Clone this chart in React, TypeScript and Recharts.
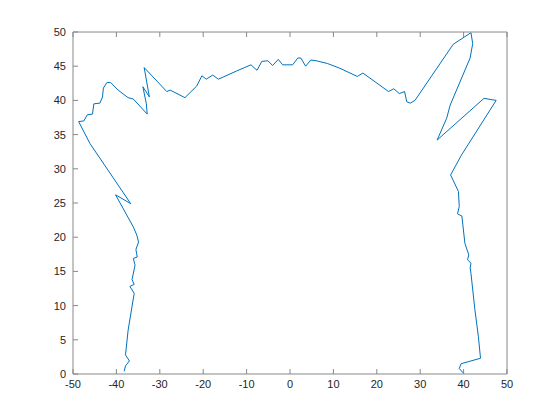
import React from "react";
import { LineChart, Line, XAxis, YAxis } from "recharts";

// contour traced from bottom-left, over the top, down to bottom-right
const leftX = [-38.2, -37.9, -37.0, -37.9, -37.3, -35.9, -36.9, -35.9, -36.4, -35.7, -36.1, -35.2, -35.5, -34.9, -35.3, -36.1, -40.2, -36.7, -46.1, -48.7];
const leftY = [0.4, 1.2, 1.9, 2.8, 6.4, 11.8, 12.8, 13.1, 13.8, 15.9, 16.9, 17.1, 18.2, 19.3, 20.3, 21.5, 26.2, 24.9, 33.7, 36.9];

const topX = [-47.5, -46.7, -45.5, -45.2, -43.8, -43.2, -43.0, -42.2, -41.3, -39.6, -37.3, -36.1, -32.9, -33.1, -33.9, -32.4, -33.6, -28.4, -27.6, -24.2, -21.5, -20.3, -19.3, -17.8, -16.5, -12.3, -9.0, -7.6, -6.5, -5.1, -4.0, -2.7, -1.7, 0.6, 1.8, 2.5, 3.6, 4.8, 6.0, 8.6, 11.5, 15.5, 16.8, 22.7, 23.9, 25.2, 26.4, 26.9, 27.7, 28.8];
const topY = [37.0, 37.9, 38.0, 39.5, 39.6, 40.5, 41.8, 42.6, 42.6, 41.5, 40.4, 40.2, 38.0, 39.5, 42.0, 40.5, 44.8, 41.3, 41.5, 40.4, 42.1, 43.6, 43.1, 43.7, 43.1, 44.3, 45.2, 44.4, 45.7, 45.8, 45.1, 46.0, 45.2, 45.2, 46.2, 46.2, 45.0, 45.9, 45.8, 45.4, 44.7, 43.5, 44.0, 41.3, 41.7, 41.0, 41.3, 39.8, 39.6, 40.0];

const rightX = [37.6, 41.7, 42.1, 41.5, 36.9, 36.1, 33.9, 44.7, 47.5, 39.5, 37.0, 38.8, 39.0, 38.6, 39.6, 40.3, 41.2, 40.9, 41.7, 41.5, 41.7, 42.6, 43.4, 43.9, 39.4, 39.0, 40.0];
const rightY = [48.2, 49.9, 48.3, 46.2, 39.3, 37.4, 34.2, 40.3, 40.0, 32.0, 29.1, 26.7, 24.5, 23.4, 23.1, 19.1, 17.4, 16.7, 16.2, 15.5, 14.7, 9.4, 5.5, 2.3, 1.5, 0.8, 0.1];

const xTicks = [-50, -40, -30, -20, -10, 0, 10, 20, 30, 40, 50];
const yTicks = [0, 5, 10, 15, 20, 25, 30, 35, 40, 45, 50];

const data = [
  ...leftX.map((x, i) => ({ x, y: leftY[i] })),
  ...topX.map((x, i) => ({ x, y: topY[i] })),
  ...rightX.map((x, i) => ({ x, y: rightY[i] })),
];

const axisColor = "#888888";
const textColor = "#262626";
const font = "'Liberation Sans', Arial, sans-serif";
const tickLen = 5;

const BottomTick = (p: any) => (
  <g>
    <line x1={p.x} y1={p.y} x2={p.x} y2={p.y - tickLen} stroke={axisColor} />
    <text x={p.x} y={p.y + 14} textAnchor="middle" fontSize={11} fontFamily={font} fill={textColor}>
      {p.payload.value}
    </text>
  </g>
);
const TopTick = (p: any) => (
  <line x1={p.x} y1={p.y} x2={p.x} y2={p.y + tickLen} stroke={axisColor} />
);
const LeftTick = (p: any) => (
  <g>
    <line x1={p.x} y1={p.y} x2={p.x + tickLen} y2={p.y} stroke={axisColor} />
    <text x={p.x - 7} y={p.y + 4} textAnchor="end" fontSize={11} fontFamily={font} fill={textColor}>
      {p.payload.value}
    </text>
  </g>
);
const RightTick = (p: any) => (
  <line x1={p.x} y1={p.y} x2={p.x - tickLen} y2={p.y} stroke={axisColor} />
);

const App = () => {
  return (
    <div style={{ position: "absolute", left: 0, top: 0, width: 560, height: 420, background: "#fff" }}>
      <LineChart width={560} height={420} data={data} margin={{ top: 12, right: 13, bottom: 16, left: 13 }}>
        <XAxis xAxisId="b" dataKey="x" type="number" domain={[-50, 50]} ticks={xTicks} height={30}
          tickSize={0} tickMargin={0} tickLine={false} axisLine={{ stroke: axisColor }} tick={BottomTick} interval={0} />
        <XAxis xAxisId="t" orientation="top" dataKey="x" type="number" domain={[-50, 50]} ticks={xTicks} height={20}
          tickSize={0} tickMargin={0} tickLine={false} axisLine={{ stroke: axisColor }} tick={TopTick} interval={0} />
        <YAxis yAxisId="l" type="number" domain={[0, 50]} ticks={yTicks} width={60}
          tickSize={0} tickMargin={0} tickLine={false} axisLine={{ stroke: axisColor }} tick={LeftTick} interval={0} />
        <YAxis yAxisId="r" orientation="right" type="number" domain={[0, 50]} ticks={yTicks} width={40}
          tickSize={0} tickMargin={0} tickLine={false} axisLine={{ stroke: axisColor }} tick={RightTick} interval={0} />
        <Line xAxisId="b" yAxisId="l" dataKey="y" stroke="#0072BD" strokeWidth={1} dot={false}
          isAnimationActive={false} type="linear" />
      </LineChart>
    </div>
  );
};

export default App;
